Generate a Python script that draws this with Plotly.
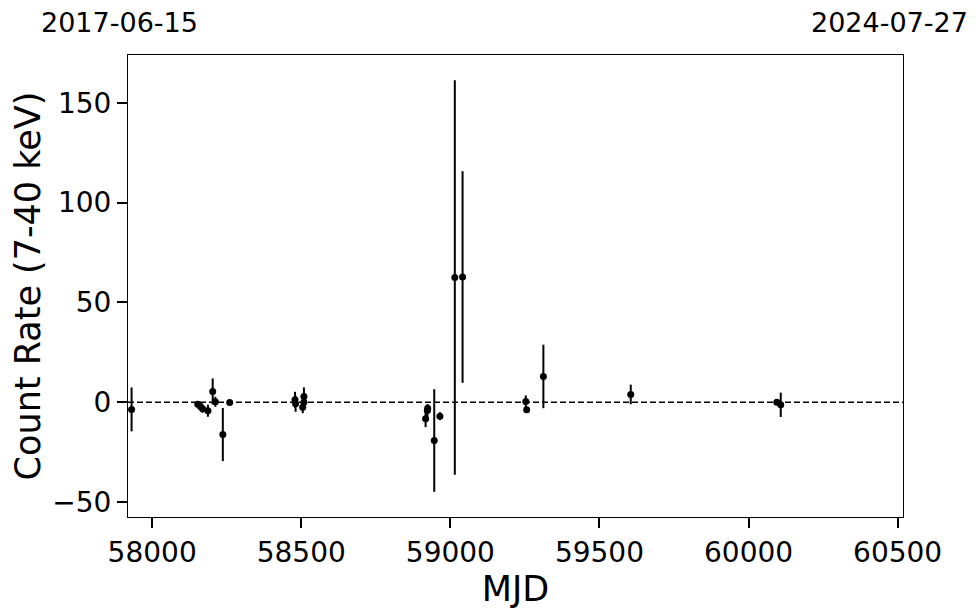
import plotly.graph_objects as go

mjd = [57931, 58153, 58162, 58169, 58187, 58203, 58212, 58237, 58260,
       58479, 58481, 58505, 58509, 58509,
       58917, 58923, 58924, 58946, 58965, 59015, 59041,
       59253, 59256, 59312, 59605, 60095, 60108]
rate = [-3.6, -1.0, -2.2, -3.3, -4.3, 5.4, 0.2, -16.2, -0.2,
        1.2, -0.8, -2.5, 2.9, 0.0,
        -8.3, -4.2, -3.0, -19.2, -7.0, 62.4, 62.7,
        0.4, -3.8, 12.9, 3.9, 0.0, -1.3]
err = [11.0, 1.5, 1.5, 2.0, 3.0, 6.5, 2.5, 13.3, 1.0,
       4.0, 4.0, 3.0, 4.5, 3.0,
       4.2, 3.0, 2.0, 25.7, 2.0, 98.8, 53.0,
       3.0, 1.5, 15.9, 4.9, 1.0, 6.1]

x_range = [57919, 60518]
y_range = [-57.5, 173.9]
x_ticks = [58000, 58500, 59000, 59500, 60000, 60500]
x_ticktext = ["58000", "58500", "59000", "59500", "60000", "60500"]
y_ticks = [-50, 0, 50, 100, 150]
y_ticktext = ["\u221250", "0", "50", "100", "150"]
start_label = "2017-06-15"
end_label = "2024-07-27"

FONT = "DejaVu Sans"

fig = go.Figure()
fig.add_trace(go.Scatter(
    x=mjd, y=rate, mode="markers",
    marker=dict(color="black", size=7),
    error_y=dict(type="data", array=err, visible=True, color="black",
                 thickness=2, width=0),
    showlegend=False,
))
fig.add_shape(type="line", xref="paper", yref="y", x0=0, x1=1, y0=0, y1=0,
              line=dict(color="black", width=1.5, dash="6px,3px"), layer="below")

axis_common = dict(showline=True, mirror=True, linecolor="black", linewidth=1,
                   ticks="outside", ticklen=10, tickwidth=2, tickcolor="black",
                   showgrid=False, zeroline=False,
                   tickfont=dict(family=FONT, size=28, color="black"))
fig.update_xaxes(range=x_range, tickvals=x_ticks, ticktext=x_ticktext,
                 title=dict(text="MJD", font=dict(family=FONT, size=35, color="black"), standoff=2),
                 **axis_common)
fig.update_yaxes(range=y_range, tickvals=y_ticks, ticktext=y_ticktext,
                 title=dict(text="Count Rate (7-40 keV)", font=dict(family=FONT, size=35, color="black"), standoff=6),
                 **axis_common)

fig.add_annotation(text=start_label, xref="paper", yref="paper", x=-0.0116, y=1.071,
                   xanchor="center", yanchor="middle", showarrow=False,
                   font=dict(family=FONT, size=27, color="black"))
fig.add_annotation(text=end_label, xref="paper", yref="paper", x=0.982, y=1.071,
                   xanchor="center", yanchor="middle", showarrow=False,
                   font=dict(family=FONT, size=27, color="black"))

fig.update_layout(width=980, height=613, plot_bgcolor="white", paper_bgcolor="white",
                  margin=dict(l=120, r=85, t=47, b=104),
                  font=dict(family=FONT, color="black"))
fig.write_html("out.html")
